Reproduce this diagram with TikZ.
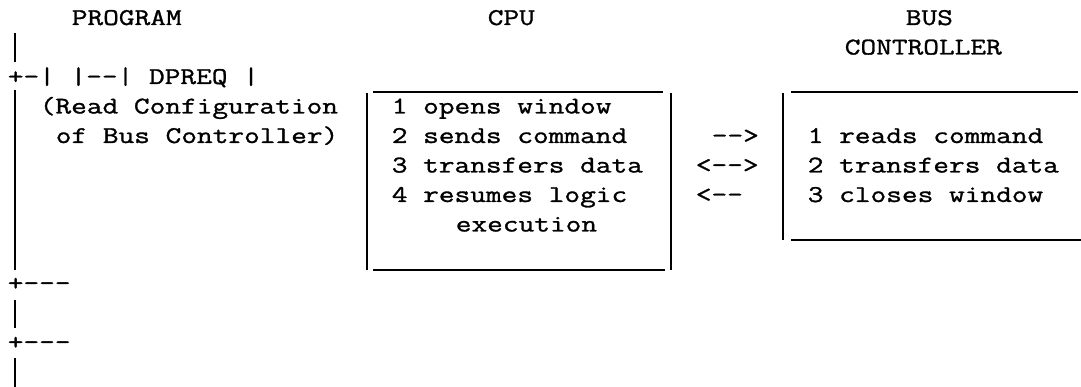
\documentclass[tikz,border=0pt]{standalone}
\usepackage{fontspec}
\newfontfamily\courfont[Ligatures=TeXOff,FakeStretch=1.27,FakeBold=1.2]{Latin Modern Mono}
\begin{document}
\begin{tikzpicture}  % ------ DPREQ : programme, CPU et controleur de bus ------------------
      [x=1pt,y=-1pt,line width=1.6pt,
       txt/.style={anchor=base west,inner sep=0pt,font=\courfont\fontsize{24}{28}\selectfont}]
    \useasboundingbox (0,0) rectangle (1081,387);
    \node [txt] (prog) at (71,25) {PROGRAM};
    \node [txt] (cpu) at (487,25) {CPU};
    \node [txt] (bus) at (905,25) {BUS};
    \node [txt] (ctrl) at (844,54.5) {CONTROLLER};
    \node [txt] (dpreq) at (7,84) {+-| |--| DPREQ |};
    \node [txt] (read) at (39,113.5) {(Read Configuration};
    \node [txt] (ofbus) at (55,143) {of Bus Controller)};
    \node [txt] (plusa) at (7,290.5) {+---};
    \node [txt] (plusb) at (7,349.5) {+---};
    \draw (15,33)--(15,62);
    \draw (15,90)--(15,270);
    \draw (15,300)--(15,328);
    \draw (15,358)--(15,387);
    % boite CPU
    \draw (373,92)--(663,92);
    \draw (367,93)--(367,270);
    \draw (671,93)--(671,270);
    \draw (373,270)--(665,270);
    \node [txt] (c1) at (391,113.5) {1 opens window};
    \node [txt] (c2) at (391,143) {2 sends command};
    \node [txt] (c3) at (391,172.5) {3 transfers data};
    \node [txt] (c4) at (391,202) {4 resumes logic};
    \node [txt] (c5) at (455,231.5) {execution};
    \node [txt] (ar1) at (711,143) {-->};
    \node [txt] (ar2) at (695,172.5) {<-->};
    \node [txt] (ar3) at (695,202) {<--};
    % boite controleur
    \draw (791,92)--(1078,92);
    \draw (783,93)--(783,240);
    \draw (791,240)--(1081,240);
    \node [txt] (b1) at (807,143) {1 reads command};
    \node [txt] (b2) at (807,172.5) {2 transfers data};
    \node [txt] (b3) at (807,202) {3 closes window};
\end{tikzpicture}
\end{document}
